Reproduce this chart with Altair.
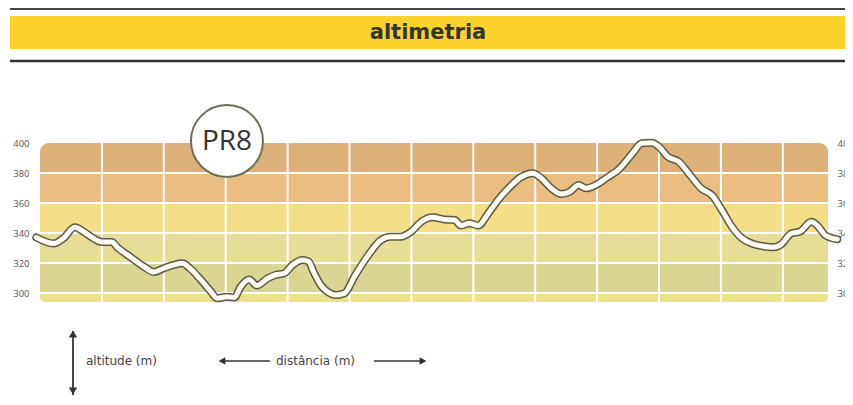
import altair as alt
import pandas as pd

# ---- data -------------------------------------------------------------
km = [-0.03, 0.11, 0.19, 0.28, 0.35, 0.43, 0.50, 0.58, 0.63, 0.67, 0.73, 0.84,
      0.92, 1.00, 1.08, 1.15, 1.21, 1.30, 1.38, 1.43, 1.51, 1.57, 1.62, 1.69,
      1.75, 1.84, 1.90, 1.97, 2.04, 2.12, 2.17, 2.21, 2.27, 2.32, 2.39, 2.46,
      2.54, 2.65, 2.75, 2.83, 2.91, 3.00, 3.08, 3.17, 3.27, 3.35, 3.40, 3.47,
      3.54, 3.62, 3.70, 3.81, 3.89, 3.98, 4.05, 4.13, 4.21, 4.28, 4.35, 4.41,
      4.49, 4.59, 4.67, 4.78, 4.86, 4.94, 5.00, 5.07, 5.16, 5.24, 5.34, 5.43,
      5.51, 5.59, 5.67, 5.75, 5.83, 5.92, 5.98, 6.07, 6.14, 6.23, 6.29, 6.34,
      6.44]
altitude = [337, 333, 336.5, 343.8, 341, 336.5, 334, 334, 330, 327.5, 324, 317.5,
            314, 316.5, 318.7, 319.8, 316.5, 308.7, 301, 296.5, 297.5, 297, 304, 309,
            305, 309.8, 312, 313, 318.7, 322, 321, 314, 305, 301, 298.7, 299.8,
            311, 325, 335, 337.5, 337.5, 341, 347.5, 350.5, 349, 348.7, 345, 346.5,
            345, 353, 362, 372, 377.5, 379.8, 376.5, 369.8, 366, 367.5, 372, 369.8,
            372, 377.5, 382, 392.5, 399.8, 400.2, 397.5, 391, 387.5, 379.8, 369.8, 365,
            355, 344, 336.5, 333, 331.3, 330.5, 332, 339.8, 341, 347.5, 344, 338.7,
            335.8]

x_ticks = [0, 0.5, 1, 1.5, 2, 2.5, 3, 3.5, 4, 4.5, 5, 5.5, 6]
y_ticks = [300, 320, 340, 360, 380, 400]
v_grid = [0.5, 1, 1.5, 2, 2.5, 3, 3.5, 4, 4.5, 5, 5.5, 6]
h_grid = [300, 320, 340, 360, 380]

band_lo = [294, 300, 320, 340, 360, 380]
band_hi = [300, 320, 340, 360, 380, 400]
band_col = ["#ebe18e", "#d9d592", "#e6de96", "#f4df88", "#eabd80", "#ddb17a"]

badge_km = [1.51]
badge_alt = [401.3]
badge_label = ["PR8"]

title_text = "altimetria"
x_label = "distância (m)"
y_label = "altitude (m)"

# ---- layout constants --------------------------------------------------
W, H = 788, 159
X_DOM = [0, 6.365]
Y_DOM = [294, 400]

profile = pd.DataFrame({"km": km, "alt": altitude})
bands = pd.DataFrame({"lo": band_lo, "hi": band_hi, "c": band_col})
vgrid = pd.DataFrame({"x": v_grid})
hgrid = pd.DataFrame({"y": h_grid})
badge = pd.DataFrame({"km": badge_km, "alt": badge_alt, "t": badge_label})

xs = alt.Scale(domain=X_DOM, nice=False, zero=False)
ys = alt.Scale(domain=Y_DOM, nice=False, zero=False)

label_font = "Open Sans"

x_axis = alt.Axis(values=x_ticks, title=None, ticks=False, domain=False, grid=False,
                  tickSize=0, labelPadding=11, labelFontSize=9.5, labelColor="#555555",
                  labelFont=label_font,
                  labelExpr="replace(toString(datum.value), '.', ',')")
y_axis_left = alt.Axis(values=y_ticks, title=None, ticks=False, domain=False, grid=False,
                       tickSize=0, labelPadding=11, labelFontSize=9.5, labelColor="#555555",
                       labelFont=label_font, orient="left")
y_axis_right = alt.Axis(values=y_ticks, title=None, ticks=False, domain=False, grid=False,
                        tickSize=0, labelPadding=9, labelFontSize=9.5, labelColor="#555555",
                        labelFont=label_font, orient="right")


def band_layer(df, **corner):
    return alt.Chart(df).mark_rect(**corner).encode(
        x=alt.value(0), x2=alt.value(W),
        y=alt.Y("lo:Q", scale=ys, axis=None), y2="hi:Q",
        color=alt.Color("c:N", scale=None),
    )


band_top = band_layer(bands[bands.lo == 380], cornerRadiusTopLeft=9, cornerRadiusTopRight=9)
band_mid = band_layer(bands[(bands.lo >= 300) & (bands.lo < 380)])
band_bot = band_layer(bands[bands.lo == 294], cornerRadiusBottomLeft=9, cornerRadiusBottomRight=9)

vrules = alt.Chart(vgrid).mark_rule(color="white", strokeWidth=2).encode(
    x=alt.X("x:Q", scale=xs, axis=None), y=alt.value(0), y2=alt.value(H))
hrules = alt.Chart(hgrid).mark_rule(color="white", strokeWidth=2).encode(
    y=alt.Y("y:Q", scale=ys, axis=None), x=alt.value(0), x2=alt.value(W))

line_outer = alt.Chart(profile).mark_line(
    color="#5a5a45", strokeWidth=8, strokeJoin="round", strokeCap="round",
    interpolate="monotone").encode(
    x=alt.X("km:Q", scale=xs, axis=x_axis),
    y=alt.Y("alt:Q", scale=ys, axis=y_axis_left),
    order="km:Q")
line_inner = alt.Chart(profile).mark_line(
    color="#fffdf2", strokeWidth=5, strokeJoin="round", strokeCap="round",
    interpolate="monotone").encode(
    x=alt.X("km:Q", scale=xs, axis=None),
    y=alt.Y("alt:Q", scale=ys, axis=y_axis_right),
    order="km:Q")

badge_circle = alt.Chart(badge).mark_point(
    shape="circle", size=5184, filled=True, fill="white", stroke="#6e6e55",
    strokeWidth=2, opacity=1).encode(
    x=alt.X("km:Q", scale=xs, axis=None), y=alt.Y("alt:Q", scale=ys, axis=None))
badge_text = alt.Chart(badge).mark_text(
    font=label_font, fontSize=28, color="#333333", align="center",
    baseline="middle", dy=1).encode(
    x=alt.X("km:Q", scale=xs, axis=None), y=alt.Y("alt:Q", scale=ys, axis=None),
    text="t:N")

one = alt.Data(values=[{}])

# header
top_line = alt.Chart(one).mark_rule(color="#444444", strokeWidth=1.8).encode(
    x=alt.value(-30), x2=alt.value(805), y=alt.value(-134))
yellow = alt.Chart(one).mark_rect(color="#fbd22c").encode(
    x=alt.value(-30), x2=alt.value(805), y=alt.value(-127), y2=alt.value(-94))
bottom_line = alt.Chart(one).mark_rule(color="#333333", strokeWidth=2.6).encode(
    x=alt.value(-30), x2=alt.value(805), y=alt.value(-82))
title = alt.Chart(one).mark_text(
    text=title_text, font="DejaVu Sans", fontWeight="bold", fontSize=21,
    color="#333333", align="center", baseline="alphabetic").encode(
    x=alt.value(388), y=alt.value(-104))

# bottom annotations
ARROW = "#333333"
ann_font = "DejaVu Sans"
v_arrow = alt.Chart(one).mark_rule(color=ARROW, strokeWidth=1.8).encode(
    x=alt.value(33), y=alt.value(188), y2=alt.value(252))
v_head_up = alt.Chart(one).mark_point(shape="triangle-up", size=70, filled=True,
                                      color=ARROW, opacity=1).encode(
    x=alt.value(33), y=alt.value(191))
v_head_dn = alt.Chart(one).mark_point(shape="triangle-down", size=70, filled=True,
                                      color=ARROW, opacity=1).encode(
    x=alt.value(33), y=alt.value(248))
y_text = alt.Chart(one).mark_text(
    text=y_label, font=ann_font, fontSize=12, color="#444444",
    align="left", baseline="middle").encode(x=alt.value(46), y=alt.value(218))

l_arrow = alt.Chart(one).mark_rule(color=ARROW, strokeWidth=1.5).encode(
    x=alt.value(181), x2=alt.value(230), y=alt.value(218))
l_head = alt.Chart(one).mark_point(shape="triangle-left", size=60, filled=True,
                                   color=ARROW, opacity=1).encode(
    x=alt.value(182), y=alt.value(218))
x_text = alt.Chart(one).mark_text(
    text=x_label, font=ann_font, fontSize=12, color="#444444",
    align="left", baseline="middle").encode(x=alt.value(236), y=alt.value(218))
r_arrow = alt.Chart(one).mark_rule(color=ARROW, strokeWidth=1.5).encode(
    x=alt.value(334), x2=alt.value(384), y=alt.value(218))
r_head = alt.Chart(one).mark_point(shape="triangle-right", size=60, filled=True,
                                   color=ARROW, opacity=1).encode(
    x=alt.value(383), y=alt.value(218))

chart = alt.layer(
    band_top, band_mid, band_bot, vrules, hrules, line_outer, line_inner,
    badge_circle, badge_text,
    top_line, yellow, bottom_line, title,
    v_arrow, v_head_up, v_head_dn, y_text, l_arrow, l_head, x_text, r_arrow, r_head,
).resolve_axis(y="independent").properties(
    width=W, height=H,
    padding={"left": 32, "top": 135, "right": 17, "bottom": 103},
    autosize=alt.AutoSizeParams(type="none"),
    background="white",
).configure_view(stroke=None)

chart.save("out.html", embed_options={"renderer": "svg", "actions": False})
